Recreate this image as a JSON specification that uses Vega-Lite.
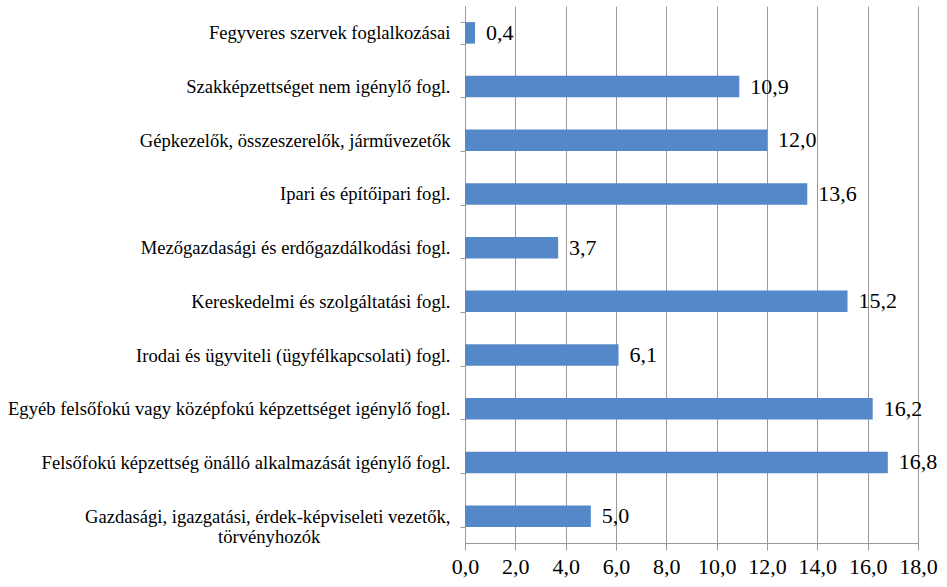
{
  "$schema": "https://vega.github.io/schema/vega-lite/v6.json",
  "width": 453,
  "height": 537,
  "autosize": {"type": "none"},
  "padding": {"left": 465, "top": 6, "right": 29, "bottom": 44},
  "background": "white",
  "config": {
    "locale": {"number": {"decimal": ",", "thousands": " ", "grouping": [3], "currency": ["", ""]}},
    "view": {"stroke": null},
    "font": "'Liberation Serif', 'Times New Roman', serif"
  },
  "data": {
    "values": [
      {"category": "Fegyveres szervek foglalkozásai", "value": 0.4},
      {"category": "Szakképzettséget nem igénylő fogl.", "value": 10.9},
      {"category": "Gépkezelők, összeszerelők, járművezetők", "value": 12.0},
      {"category": "Ipari és építőipari fogl.", "value": 13.6},
      {"category": "Mezőgazdasági és erdőgazdálkodási fogl.", "value": 3.7},
      {"category": "Kereskedelmi és szolgáltatási fogl.", "value": 15.2},
      {"category": "Irodai és ügyviteli (ügyfélkapcsolati) fogl.", "value": 6.1},
      {"category": "Egyéb felsőfokú vagy középfokú képzettséget igénylő fogl.", "value": 16.2},
      {"category": "Felsőfokú képzettség önálló alkalmazását igénylő fogl.", "value": 16.8},
      {"category": "Gazdasági, igazgatási, érdek-képviseleti vezetők,|törvényhozók", "value": 5.0}
    ]
  },
  "encoding": {
    "y": {
      "field": "category", "type": "nominal", "sort": null,
      "scale": {"paddingInner": 0.6, "paddingOuter": 0.3},
      "axis": {
        "title": null,
        "labelExpr": "indexof(datum.label, '|') >= 0 ? [split(datum.label, '|')[0], split(datum.label, '|')[1] + '\u2003\u2003\u2003\u2003\u2003\u2003\u2003\u200b'] : datum.label",
        "labelFont": "'Liberation Serif', 'Times New Roman', serif", "labelFontSize": 18.6, "labelColor": "#000000",
        "labelLimit": 500, "labelPadding": 10, "labelLineHeight": 20,
        "tickSize": 5, "tickColor": "#9a9a9a", "domainColor": "#9a9a9a",
        "tickBand": "extent"
      }
    },
    "x": {
      "field": "value", "type": "quantitative",
      "scale": {"domain": [0, 18], "nice": false},
      "axis": {
        "title": null, "values": [0, 2, 4, 6, 8, 10, 12, 14, 16, 18],
        "format": ".1f",
        "labelFont": "'Liberation Serif', 'Times New Roman', serif", "labelFontSize": 22, "labelColor": "#000000",
        "labelPadding": 6, "tickSize": 7, "tickColor": "#9a9a9a", "domainColor": "#9a9a9a",
        "grid": true, "gridColor": "#9a9a9a", "labelFlush": false, "labelOverlap": false
      }
    }
  },
  "layer": [
    {"mark": {"type": "bar", "color": "#5588C8"}},
    {
      "mark": {"type": "text", "align": "left", "baseline": "middle", "dx": 11, "fontSize": 22, "font": "'Liberation Serif', 'Times New Roman', serif", "color": "#000000"},
      "encoding": {"text": {"field": "value", "type": "quantitative", "format": ".1f"}}
    }
  ]
}
